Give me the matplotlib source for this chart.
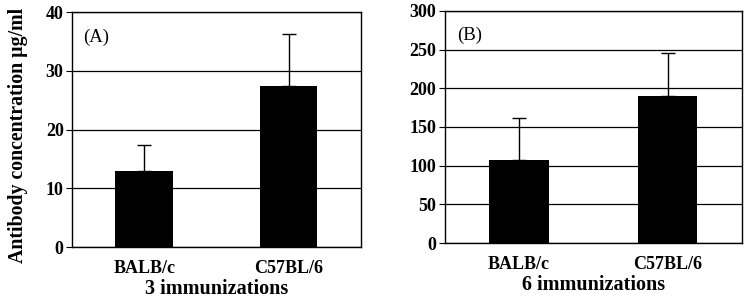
import numpy as np
import matplotlib.pyplot as plt

# ── Data ──────────────────────────────────────────────────────────────────────
STRAINS   = ['BALB/c', 'C57BL/6']
MEAN_3X   = [13.0, 27.5]
ERR_3X    = [4.3, 8.7]
MEAN_6X   = [108, 190]
ERR_6X    = [54, 56]

plt.rcParams['font.family'] = ['Liberation Serif', 'DejaVu Serif']
plt.rcParams['font.weight'] = 'bold'


def draw_panel(ax, means, errs, ymax, step, label, xlabel):
    x = np.arange(len(STRAINS))
    ax.set_axisbelow(True)
    ax.yaxis.grid(True, color='black', linewidth=0.9)
    ax.bar(x, means, width=0.4, color='black', zorder=2)
    ax.errorbar(x, means, yerr=[np.zeros(len(errs)), errs], fmt='none',
                ecolor='black', elinewidth=1, capsize=4.7, capthick=1, zorder=1)
    ax.set_xlim(-0.5, 1.5)
    ax.set_ylim(0, ymax)
    ax.set_yticks(np.arange(0, ymax + 1, step))
    ax.set_xticks(x)
    ax.set_xticklabels(STRAINS, fontsize=13, fontweight='bold')
    ax.tick_params(axis='x', length=0, pad=9)
    ax.tick_params(axis='y', length=4, direction='out', labelsize=13, pad=2)
    for lbl in ax.get_yticklabels():
        lbl.set_fontweight('bold')
    for s in ax.spines.values():
        s.set_linewidth(1.0)
    ax.set_xlabel(xlabel, fontsize=14.5, fontweight='bold', labelpad=2)
    ax.text(0.04, 0.93, label, transform=ax.transAxes, fontsize=13.5,
            fontweight='normal', va='top', ha='left')


fig = plt.figure(figsize=(7.5, 3.02), dpi=100)
ax1 = fig.add_axes([0.096, 0.182, 0.385, 0.778])
ax2 = fig.add_axes([0.593, 0.195, 0.396, 0.769])

draw_panel(ax1, MEAN_3X, ERR_3X, 40, 10, '(A)', '3 immunizations')
draw_panel(ax2, MEAN_6X, ERR_6X, 300, 50, '(B)', '6 immunizations')
fig.text(0.024, 0.553, 'Antibody concentration µg/ml', rotation=90,
         ha='center', va='center', fontsize=14.3, fontweight='bold')

fig.savefig('out.png', dpi=100)
